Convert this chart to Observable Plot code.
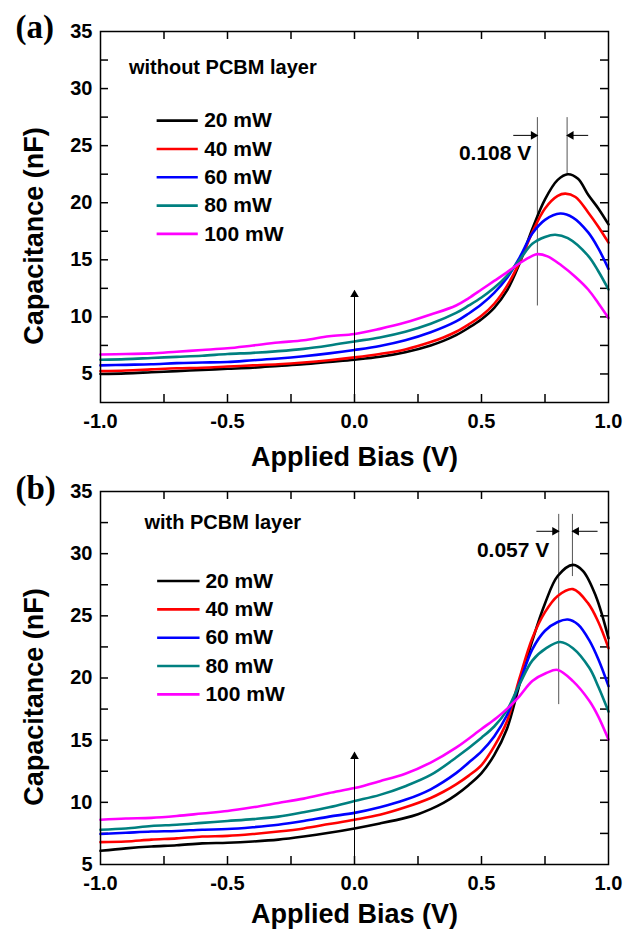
<!DOCTYPE html>
<html><head><meta charset="utf-8">
<script src="https://cdn.jsdelivr.net/npm/d3@7"></script>
<script src="https://cdn.jsdelivr.net/npm/@observablehq/plot@0.6"></script>
<style>
body{margin:0;background:#fff;}
#chart{width:626px;}
#chart svg{display:block;}
</style></head><body><div id="chart"></div>
<script>
const powers = ["20 mW","40 mW","60 mW","80 mW","100 mW"];
const colors = ["#000000","#ff0000","#0000ff","#008080","#ff00ff"];
const xTickLabels = [-1, -0.5, 0, 0.5, 1];
const yTickLabels = [5, 10, 15, 20, 25, 30, 35];

// Panel (a): without PCBM layer  [bias V, capacitance nF]
const a20 = [[-1,5.0],[-0.9,5.05],[-0.8,5.15],[-0.7,5.25],[-0.6,5.35],[-0.5,5.45],[-0.4,5.55],[-0.3,5.7],[-0.2,5.85],[-0.1,6.05],[0,6.25],[0.1,6.5],[0.2,6.9],[0.3,7.5],[0.35,7.9],[0.4,8.4],[0.45,9.05],[0.5,9.8],[0.55,10.8],[0.6,12.3],[0.65,14.7],[0.7,17.7],[0.75,20.3],[0.8,22.0],[0.84,22.5],[0.88,22.1],[0.92,20.7],[0.96,19.5],[1.0,18.1]];
const a40 = [[-1,5.25],[-0.9,5.3],[-0.8,5.4],[-0.7,5.5],[-0.6,5.55],[-0.5,5.65],[-0.4,5.75],[-0.3,5.85],[-0.2,6.0],[-0.1,6.2],[0,6.45],[0.1,6.75],[0.2,7.15],[0.3,7.8],[0.35,8.2],[0.4,8.7],[0.45,9.35],[0.5,10.1],[0.55,11.15],[0.6,12.7],[0.65,14.8],[0.7,17.4],[0.75,19.5],[0.8,20.6],[0.83,20.8],[0.87,20.5],[0.92,19.15],[0.96,17.9],[1.0,16.5]];
const a60 = [[-1,5.75],[-0.9,5.8],[-0.8,5.85],[-0.7,5.95],[-0.6,6.0],[-0.5,6.05],[-0.4,6.2],[-0.3,6.35],[-0.2,6.55],[-0.1,6.8],[0,7.1],[0.1,7.45],[0.2,7.95],[0.3,8.65],[0.4,9.6],[0.45,10.3],[0.5,11.1],[0.55,12.1],[0.6,13.4],[0.65,15.2],[0.7,17.3],[0.75,18.5],[0.81,19.05],[0.86,18.7],[0.92,17.4],[0.96,16.0],[1.0,14.2]];
const a80 = [[-1,6.25],[-0.9,6.3],[-0.8,6.4],[-0.7,6.5],[-0.6,6.6],[-0.5,6.75],[-0.4,6.85],[-0.3,7.0],[-0.2,7.2],[-0.1,7.5],[0,7.85],[0.1,8.2],[0.2,8.7],[0.3,9.4],[0.4,10.35],[0.45,11.0],[0.5,11.7],[0.55,12.55],[0.6,13.6],[0.65,15.0],[0.7,16.4],[0.75,17.0],[0.79,17.2],[0.84,16.9],[0.92,15.35],[0.96,14.0],[1.0,12.4]];
const a100 = [[-1,6.7],[-0.9,6.75],[-0.8,6.8],[-0.7,6.95],[-0.6,7.1],[-0.5,7.25],[-0.4,7.5],[-0.3,7.75],[-0.2,7.95],[-0.1,8.3],[0,8.5],[0.1,8.95],[0.2,9.5],[0.3,10.2],[0.4,11.0],[0.45,11.65],[0.5,12.4],[0.55,13.15],[0.6,13.9],[0.65,14.7],[0.7,15.35],[0.72,15.5],[0.76,15.3],[0.815,14.5],[0.87,13.5],[0.92,12.4],[0.96,11.2],[1.0,9.9]];

// Panel (b): with PCBM layer
const b20 = [[-1,6.1],[-0.9,6.3],[-0.8,6.45],[-0.7,6.55],[-0.6,6.7],[-0.5,6.75],[-0.4,6.85],[-0.3,7.0],[-0.2,7.25],[-0.1,7.55],[0,7.9],[0.1,8.3],[0.2,8.75],[0.25,9.05],[0.3,9.45],[0.35,9.95],[0.4,10.6],[0.45,11.4],[0.5,12.35],[0.55,13.8],[0.6,15.9],[0.65,19.5],[0.7,23.0],[0.75,26.0],[0.8,28.2],[0.86,29.1],[0.9,28.6],[0.95,26.6],[1.0,23.2]];
const b40 = [[-1,6.8],[-0.9,6.85],[-0.8,7.0],[-0.7,7.1],[-0.6,7.25],[-0.5,7.3],[-0.4,7.45],[-0.3,7.65],[-0.2,7.9],[-0.1,8.25],[0,8.6],[0.1,9.0],[0.2,9.6],[0.3,10.35],[0.35,10.85],[0.4,11.45],[0.45,12.15],[0.5,13.0],[0.55,14.5],[0.6,16.5],[0.65,20.0],[0.7,23.2],[0.75,25.3],[0.8,26.6],[0.86,27.15],[0.92,26.0],[0.96,24.5],[1.0,22.4]];
const b60 = [[-1,7.45],[-0.9,7.55],[-0.8,7.65],[-0.7,7.7],[-0.6,7.8],[-0.5,7.85],[-0.4,8.0],[-0.3,8.2],[-0.2,8.5],[-0.1,8.85],[0,9.15],[0.1,9.6],[0.2,10.2],[0.3,11.05],[0.4,12.35],[0.45,13.2],[0.5,14.1],[0.55,15.3],[0.6,17.0],[0.65,19.6],[0.7,22.3],[0.75,23.8],[0.8,24.5],[0.84,24.7],[0.88,24.3],[0.925,23.0],[0.96,21.5],[1.0,19.35]];
const b80 = [[-1,7.8],[-0.9,7.9],[-0.8,8.1],[-0.7,8.2],[-0.6,8.35],[-0.5,8.5],[-0.4,8.65],[-0.3,8.85],[-0.2,9.2],[-0.1,9.6],[0,10.1],[0.1,10.6],[0.2,11.3],[0.3,12.2],[0.4,13.6],[0.5,15.2],[0.55,16.1],[0.6,17.4],[0.65,19.5],[0.7,21.4],[0.755,22.4],[0.81,22.9],[0.86,22.4],[0.925,20.8],[0.96,19.3],[1.0,17.3]];
const b100 = [[-1,8.6],[-0.9,8.7],[-0.8,8.75],[-0.7,8.9],[-0.6,9.1],[-0.5,9.3],[-0.4,9.6],[-0.3,9.95],[-0.2,10.3],[-0.1,10.75],[0,11.15],[0.1,11.7],[0.2,12.3],[0.3,13.2],[0.4,14.4],[0.5,15.9],[0.56,16.8],[0.61,17.7],[0.65,18.55],[0.7,19.75],[0.755,20.4],[0.8,20.65],[0.86,19.75],[0.925,18.15],[0.96,16.9],[1.0,15.05]];

// annotation values
const peakShiftA = {label: "0.108 V", xLeft: 0.72, xRight: 0.837, yTop: 27.5, yLeftEnd: 11.0, yRightEnd: 22.5, yArrow: 25.9, arrowFrom: 0.625, arrowFromR: 0.92, textX: 0.696, textY: 24.3, upArrowTop: 12.3};
const peakShiftB = {label: "0.057 V", xLeft: 0.804, xRight: 0.858, yTop: 33.2, yLeftEnd: 17.9, yRightEnd: 28.2, yArrow: 31.8, arrowFrom: 0.716, arrowFromR: 0.957, textX: 0.767, textY: 30.24, upArrowTop: 14.0};

const FONT = '"Liberation Sans", Arial, Helvetica, sans-serif';

function toRows(series) {
  const rows = [];
  series.forEach((s, i) => s.forEach(([v, c]) => rows.push({V: v, C: c, power: powers[i]})));
  return rows;
}

function panel(cfg) {
  const {series, yDomain, height, mt, mb, title, titlePos, tag, tagDy, legend, ann, xTitleDy, yTicksAll} = cfg;
  const ml = 100, mr = 18, width = 626;
  const innerH = height - mt - mb, innerW = width - ml - mr;
  const rows = toRows(series);
  const xMinor = [-0.75, -0.5, -0.25, 0, 0.25, 0.5, 0.75];
  const T = 8;
  const legRows = powers.map((p, i) => ({p, y: legend.y0 + i * legend.step}));
  const pxY = (yDomain[1] - yDomain[0]) / innerH; // data units per px
  const pxX = 2 / innerW;
  return Plot.plot({
    width, height,
    marginLeft: ml, marginRight: mr, marginTop: mt, marginBottom: mb,
    style: {fontFamily: FONT, fontWeight: "bold", fontSize: "20px", color: "black", background: "white", overflow: "visible"},
    x: {domain: [-1, 1]},
    y: {domain: yDomain},
    color: {domain: powers, range: colors},
    marks: [
      // inward ticks on all four sides
      Plot.ruleX(xMinor, {insetTop: innerH - T, strokeWidth: 1.5}),
      Plot.ruleX(xMinor, {insetBottom: innerH - T, strokeWidth: 1.5}),
      Plot.ruleY(yTicksAll, {insetRight: innerW - T, strokeWidth: 1.5}),
      Plot.ruleY(yTicksAll, {insetLeft: innerW - T, strokeWidth: 1.5}),
      Plot.axisX({ticks: xTickLabels, tickFormat: d => d.toFixed(1), tickSize: 0, tickPadding: 11, label: null, fontSize: 20, fontWeight: "bold"}),
      Plot.axisY({ticks: yTickLabels, tickFormat: d => String(d), tickSize: 0, tickPadding: 8, label: null, fontSize: 20, fontWeight: "bold"}),
      // annotation lines
      Plot.link([
        {x1: ann.xLeft, y1: ann.yTop, x2: ann.xLeft, y2: ann.yLeftEnd},
        {x1: ann.xRight, y1: ann.yTop, x2: ann.xRight, y2: ann.yRightEnd}
      ], {x1: "x1", y1: "y1", x2: "x2", y2: "y2", stroke: "#555", strokeWidth: 1}),
      // data curves
      Plot.line(rows, {x: "V", y: "C", z: "power", stroke: "power", strokeWidth: 2.6, curve: "catmull-rom"}),
      // arrows
      Plot.link([
        {x1: ann.arrowFrom, y1: ann.yArrow, x2: ann.xLeft, y2: ann.yArrow},
        {x1: ann.arrowFromR, y1: ann.yArrow, x2: ann.xRight, y2: ann.yArrow},
        {x1: 0, y1: yDomain[0], x2: 0, y2: ann.upArrowTop}
      ], {x1: "x1", y1: "y1", x2: "x2", y2: "y2", stroke: "black", strokeWidth: 1}),
      Plot.dot([
        {x: ann.xLeft - 4 * pxX, y: ann.yArrow, r: 90},
        {x: ann.xRight + 4 * pxX, y: ann.yArrow, r: -90},
        {x: 0, y: ann.upArrowTop - 4 * pxY, r: 0}
      ], {x: "x", y: "y", rotate: "r", symbol: "triangle", r: 3.2, fill: "black", stroke: "none"}),
      Plot.text([ann.label], {x: ann.textX, y: ann.textY, textAnchor: "end", lineAnchor: "middle", fontSize: 21, fontWeight: "bold"}),
      // inner title
      Plot.text([title], {x: titlePos[0], y: titlePos[1], textAnchor: "start", lineAnchor: "middle", fontSize: 20, fontWeight: "bold"}),
      // legend
      Plot.link(legRows, {x1: legend.x1, x2: legend.x2, y1: "y", y2: "y", stroke: "p", strokeWidth: 2.6}),
      Plot.text(legRows, {x: legend.tx, y: "y", text: "p", textAnchor: "start", lineAnchor: "middle", fontSize: 21, fontWeight: "bold"}),
      // axis titles and panel tag
      Plot.text(["Applied Bias (V)"], {frameAnchor: "bottom", dy: xTitleDy, textAnchor: "middle", lineAnchor: "middle", fontSize: 27, fontWeight: "bold"}),
      Plot.text(["Capacitance (nF)"], {frameAnchor: "left", dx: -66, dy: 19, rotate: -90, textAnchor: "middle", lineAnchor: "middle", fontSize: 27, fontWeight: "bold"}),
      Plot.text([tag], {frameAnchor: "top-left", dx: -85, dy: tagDy, textAnchor: "start", lineAnchor: "middle", fontFamily: '"Liberation Serif", "Times New Roman", serif', fontSize: 33, fontWeight: "bold"}),
      Plot.frame({stroke: "black", strokeWidth: 1.5})
    ]
  });
}

const yTicksA = [5, 7.5, 10, 12.5, 15, 17.5, 20, 22.5, 25, 27.5, 30, 32.5];
const yTicksB = [7.5, 10, 12.5, 15, 17.5, 20, 22.5, 25, 27.5, 30, 32.5];

const chart = document.getElementById("chart");
chart.appendChild(panel({
  series: [a20, a40, a60, a80, a100], yDomain: [2.5, 35], height: 466, mt: 31, mb: 64,
  title: "without PCBM layer", titlePos: [-0.888, 31.8], tag: "(a)", tagDy: -4,
  legend: {x1: -0.779, x2: -0.617, tx: -0.592, y0: 27.19, step: -2.48},
  ann: peakShiftA, xTitleDy: 55, yTicksAll: yTicksA
}));
chart.appendChild(panel({
  series: [b20, b40, b60, b80, b100], yDomain: [5, 35], height: 463, mt: 25, mb: 65,
  title: "with PCBM layer", titlePos: [-0.827, 32.5], tag: "(b)", tagDy: -3,
  legend: {x1: -0.777, x2: -0.61, tx: -0.587, y0: 27.8, step: -2.28},
  ann: peakShiftB, xTitleDy: 50, yTicksAll: yTicksB
}));
</script></body></html>
